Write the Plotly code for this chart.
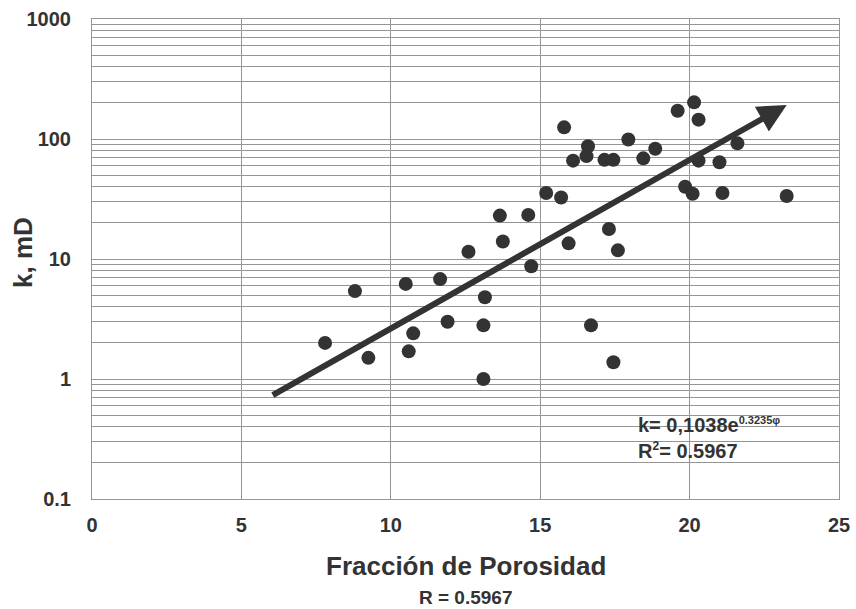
import math
import plotly.graph_objects as go

porosity = [7.8, 8.8, 9.25, 10.5, 10.6, 10.75, 11.65, 11.9, 12.6, 13.15, 13.1, 13.1,
            13.65, 13.75, 14.6, 14.7, 15.2, 15.7, 15.8, 15.95, 16.1, 16.55, 16.6, 16.7,
            17.15, 17.3, 17.45, 17.45, 17.6, 17.95, 18.45, 18.85, 19.6, 19.85, 20.15,
            20.1, 20.3, 20.3, 21.0, 21.1, 21.6, 23.25]
perm = [2.0, 5.4, 1.5, 6.2, 1.7, 2.4, 6.8, 3.0, 11.5, 4.8, 2.8, 1.0,
        23.0, 14.0, 23.3, 8.7, 35.5, 32.5, 125, 13.5, 66, 72, 87, 2.8,
        67, 17.8, 67, 1.38, 11.8, 99, 69, 83, 172, 40, 202,
        35, 145, 66, 64, 35.5, 92, 33.5]

trend_a = 0.1038
trend_b = 0.3235
trend_x0, trend_x1 = 6.0, 23.25

y_ticks = [0.1, 1, 10, 100, 1000]
y_ticktext = ["0.1", "1", "10", "100", "1000"]
x_ticks = [0, 5, 10, 15, 20, 25]
minor_vals = [m * 10 ** d for d in range(-1, 3) for m in range(2, 10)]

dark = "#333333"
grid = "#959595"
font_family = "Liberation Sans, Arial, sans-serif"

fig = go.Figure()
fig.add_trace(go.Scatter(
    x=porosity, y=perm, mode="markers",
    marker=dict(size=14, color=dark, line=dict(width=0)),
    showlegend=False, hoverinfo="x+y",
))

def ylog(x):
    return math.log10(trend_a * math.exp(trend_b * x))

fig.add_annotation(
    x=trend_x1, y=ylog(trend_x1), ax=trend_x0, ay=ylog(trend_x0),
    xref="x", yref="y", axref="x", ayref="y",
    showarrow=True, arrowhead=2, arrowsize=0.95, arrowwidth=6,
    arrowcolor=dark, text="",
)

fig.add_annotation(
    x=18.2, y=math.log10(0.414), xref="x", yref="y", xanchor="left", yanchor="middle",
    text="<b>k= 0,1038e<sup><span style='font-size:11px'>0.3235φ</span></sup></b>",
    showarrow=False,
    font=dict(size=20, color=dark, family=font_family),
)
fig.add_annotation(
    x=18.2, y=math.log10(0.256), xref="x", yref="y", xanchor="left", yanchor="middle",
    text="<b>R<sup><span style='font-size:12px'>2</span></sup>= 0.5967</b>", showarrow=False,
    font=dict(size=20, color=dark, family=font_family),
)
fig.add_annotation(
    x=0.5, y=-0.1396, xref="paper", yref="paper", xanchor="center", yanchor="middle",
    text="<b>Fracción de Porosidad</b>", showarrow=False,
    font=dict(size=26, color=dark, family=font_family),
)
fig.add_annotation(
    x=0.5, y=-0.206, xref="paper", yref="paper", xanchor="center", yanchor="middle",
    text="<b>R = 0.5967</b>", showarrow=False,
    font=dict(size=19, color=dark, family=font_family),
)
fig.add_annotation(
    x=-0.0924, y=0.5146, xref="paper", yref="paper", xanchor="center", yanchor="middle",
    text="<b>k, mD</b>", showarrow=False, textangle=-90,
    font=dict(size=26, color=dark, family=font_family),
)

fig.update_layout(
    width=856, height=609,
    margin=dict(l=92, r=17, t=19, b=110),
    paper_bgcolor="white", plot_bgcolor="white",
    font=dict(family=font_family, color=dark),
    xaxis=dict(
        range=[0, 25], tickvals=x_ticks, ticktext=[f"<b>{v}</b>" for v in x_ticks],
        showgrid=True, gridcolor=grid, gridwidth=1,
        showline=True, linecolor=grid, linewidth=1, mirror=True,
        zeroline=False, ticks="", ticklabelstandoff=8, automargin=False,
        tickfont=dict(size=20, color=dark),
    ),
    yaxis=dict(
        type="log", range=[-1, 3], tickvals=y_ticks,
        ticktext=[f"<b>{t}</b>" for t in y_ticktext],
        showgrid=True, gridcolor=grid, gridwidth=1,
        minor=dict(tickvals=minor_vals, showgrid=True, gridcolor=grid, gridwidth=1, ticks=""),
        showline=True, linecolor=grid, linewidth=1, mirror=True,
        zeroline=False, ticks="", ticklabelstandoff=16, automargin=False,
        tickfont=dict(size=20, color=dark),
    ),
)

fig.write_html(
    "out.html",
    config={"displayModeBar": False},
    post_script="document.body.style.margin='0';document.body.style.overflow='hidden';",
)
